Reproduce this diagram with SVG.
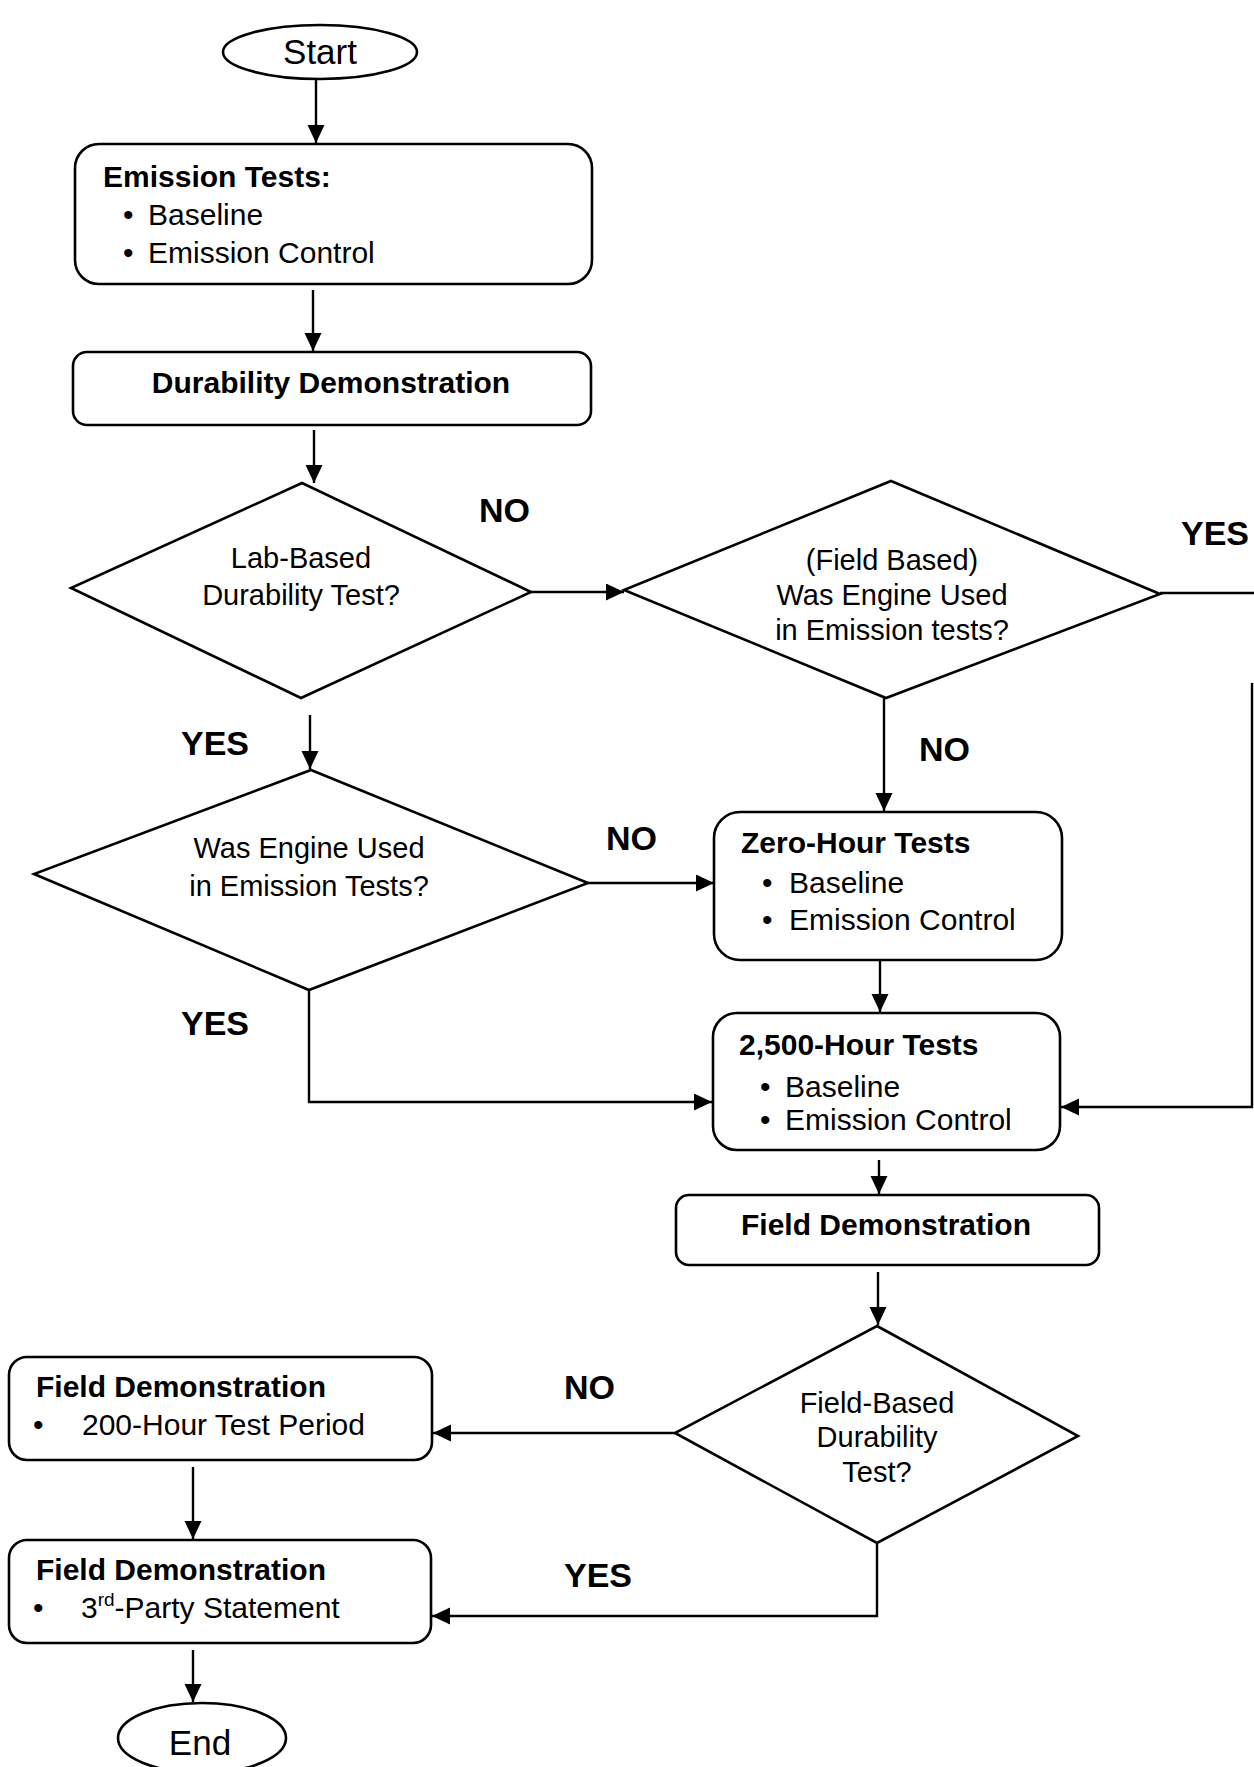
<svg xmlns="http://www.w3.org/2000/svg" width="1254" height="1767" viewBox="0 0 1254 1767">
<style>
.shape{fill:#fff;stroke:#000;stroke-width:2.6}
.t{font-family:"Liberation Sans",Arial,sans-serif;fill:#000}
.r{font-size:30px}
.b{font-size:30px;font-weight:bold}
.d{font-size:29px}
.lbl{font-family:"Liberation Sans",Arial,sans-serif;font-size:34px;font-weight:bold;fill:#000}
.se{font-size:35px}
.c{text-anchor:middle}
.conn{fill:none;stroke:#000;stroke-width:2.4}
</style>
<defs>
<marker id="ah" markerUnits="userSpaceOnUse" markerWidth="19" markerHeight="18" refX="18" refY="8.5" orient="auto">
<path d="M0,0 L18,8.5 L0,17 z" fill="#000"/>
</marker>
</defs>
<rect width="1254" height="1767" fill="#fff"/>

<g id="connectors">
<path class="conn" d="M316,79 V143" marker-end="url(#ah)"/>
<path class="conn" d="M313,290 V351" marker-end="url(#ah)"/>
<path class="conn" d="M314,430 V483" marker-end="url(#ah)"/>
<path class="conn" d="M531,592 H624" marker-end="url(#ah)"/>
<path class="conn" d="M310,715 V769" marker-end="url(#ah)"/>
<path class="conn" d="M588,883 H714" marker-end="url(#ah)"/>
<path class="conn" d="M884,698 V811" marker-end="url(#ah)"/>
<path class="conn" d="M1160,593 H1254"/>
<path class="conn" d="M1252,683 V1107 H1061" marker-end="url(#ah)"/>
<path class="conn" d="M309,990 V1102 H712" marker-end="url(#ah)"/>
<path class="conn" d="M880,960 V1012" marker-end="url(#ah)"/>
<path class="conn" d="M879,1160 V1194" marker-end="url(#ah)"/>
<path class="conn" d="M878,1272 V1325" marker-end="url(#ah)"/>
<path class="conn" d="M675,1433 H433" marker-end="url(#ah)"/>
<path class="conn" d="M877,1543 V1616 H432" marker-end="url(#ah)"/>
<path class="conn" d="M193,1467 V1539" marker-end="url(#ah)"/>
<path class="conn" d="M193,1650 V1702" marker-end="url(#ah)"/>
</g>

<g id="labels">
<text class="lbl" x="479" y="522">NO</text>
<text class="lbl" x="1181" y="545">YES</text>
<text class="lbl" x="181" y="755">YES</text>
<text class="lbl" x="919" y="761">NO</text>
<text class="lbl" x="606" y="850">NO</text>
<text class="lbl" x="181" y="1035">YES</text>
<text class="lbl" x="564" y="1399">NO</text>
<text class="lbl" x="564" y="1587">YES</text>
</g>

<g id="start">
<ellipse class="shape" cx="320" cy="52" rx="97" ry="27"/>
<text class="t se c" x="320" y="64">Start</text>
</g>

<g id="emission-tests">
<rect class="shape" x="75" y="144" width="517" height="140" rx="24"/>
<text class="t b" x="103" y="187">Emission Tests:</text>
<text class="t r" x="123" y="225">•</text>
<text class="t r" x="148" y="225">Baseline</text>
<text class="t r" x="123" y="263">•</text>
<text class="t r" x="148" y="263">Emission Control</text>
</g>

<g id="durability-demo">
<rect class="shape" x="73" y="352" width="518" height="73" rx="14"/>
<text class="t b c" x="331" y="393">Durability Demonstration</text>
</g>

<g id="lab-based">
<polygon class="shape" points="302,483 531,592 301,698 71,588"/>
<text class="t d c" x="301" y="568">Lab-Based</text>
<text class="t d c" x="301" y="605">Durability Test?</text>
</g>

<g id="field-based-engine">
<polygon class="shape" points="891,481 1160,594 886,698 624,590"/>
<text class="t d c" x="892" y="570">(Field Based)</text>
<text class="t d c" x="892" y="605">Was Engine Used</text>
<text class="t d c" x="892" y="640">in Emission tests?</text>
</g>

<g id="lab-engine">
<polygon class="shape" points="311,770 588,883 309,990 34,874"/>
<text class="t d c" x="309" y="858">Was Engine Used</text>
<text class="t d c" x="309" y="896">in Emission Tests?</text>
</g>

<g id="zero-hour">
<rect class="shape" x="714" y="812" width="348" height="148" rx="26"/>
<text class="t b" x="741" y="853">Zero-Hour Tests</text>
<text class="t r" x="762" y="893">•</text>
<text class="t r" x="789" y="893">Baseline</text>
<text class="t r" x="762" y="930">•</text>
<text class="t r" x="789" y="930">Emission Control</text>
</g>

<g id="hour-2500">
<rect class="shape" x="713" y="1013" width="347" height="137" rx="24"/>
<text class="t b" x="739" y="1055">2,500-Hour Tests</text>
<text class="t r" x="760" y="1097">•</text>
<text class="t r" x="785" y="1097">Baseline</text>
<text class="t r" x="760" y="1130">•</text>
<text class="t r" x="785" y="1130">Emission Control</text>
</g>

<g id="field-demo">
<rect class="shape" x="676" y="1195" width="423" height="70" rx="13"/>
<text class="t b c" x="886" y="1235">Field Demonstration</text>
</g>

<g id="field-based-durability">
<polygon class="shape" points="877,1326 1078,1436 877,1543 675,1433"/>
<text class="t d c" x="877" y="1413">Field-Based</text>
<text class="t d c" x="877" y="1447">Durability</text>
<text class="t d c" x="877" y="1482">Test?</text>
</g>

<g id="field-demo-200">
<rect class="shape" x="9" y="1357" width="423" height="103" rx="18"/>
<text class="t b" x="36" y="1397">Field Demonstration</text>
<text class="t r" x="33" y="1435">•</text>
<text class="t r" x="82" y="1435">200-Hour Test Period</text>
</g>

<g id="field-demo-3rd">
<rect class="shape" x="9" y="1540" width="422" height="103" rx="18"/>
<text class="t b" x="36" y="1580">Field Demonstration</text>
<text class="t r" x="33" y="1618">•</text>
<text class="t r" x="81" y="1618">3<tspan font-size="19" dy="-12">rd</tspan><tspan dy="12">-Party Statement</tspan></text>
</g>

<g id="end">
<ellipse class="shape" cx="202" cy="1738" rx="84" ry="35"/>
<text class="t se c" x="200" y="1755">End</text>
</g>
</svg>
